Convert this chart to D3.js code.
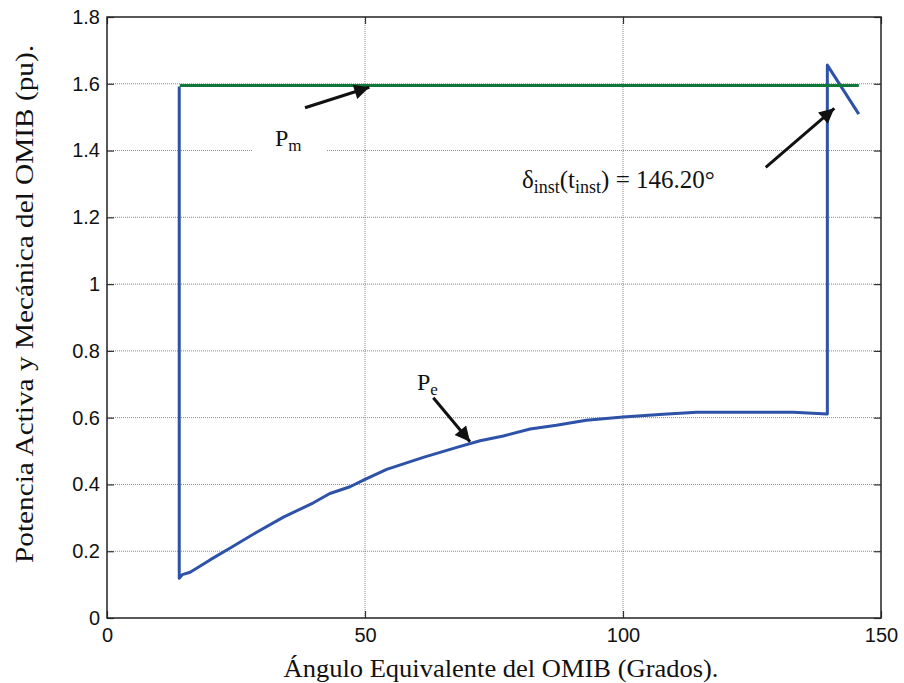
<!DOCTYPE html>
<html>
<head>
<meta charset="utf-8">
<script src="https://cdn.jsdelivr.net/npm/d3@7"></script>
<style>
  body { margin: 0; background: #fff; }
  text { fill: #111; }
</style>
</head>
<body>
<script>
// data
const xTicks = [0, 50, 100, 150]
const yTicks = [0, 0.2, 0.4, 0.6, 0.8, 1, 1.2, 1.4, 1.6, 1.8]

const pmX = [14.1, 145.7]
const pmY = [1.595, 1.595]

const peX = [14.0, 14.0, 14.6, 16.1, 18.0, 19.96, 23.8, 29.0, 34.2, 40.0, 43.2, 47.1, 49.7, 54.2, 61.3, 67.8,
             72.3, 76.8, 82.0, 87.1, 92.9, 100, 107.8, 114.3, 133.0, 139.6, 139.6, 145.7]
const peY = [1.592, 0.119, 0.13, 0.137, 0.155, 0.174, 0.209, 0.257, 0.302, 0.345, 0.373, 0.393, 0.413, 0.445, 0.481, 0.511,
             0.531, 0.545, 0.566, 0.577, 0.592, 0.602, 0.610, 0.616, 0.616, 0.611, 1.656, 1.509]

const m = {
    width: 904,
    height: 683,
    left: 107,
    right: 881,
    top: 17,
    bottom: 618
}

const svg = d3.select("body").append('svg')
    .attr('width', m.width)
    .attr('height', m.height)

const x = d3.scaleLinear().domain([0, 150]).range([m.left, m.right])
const y = d3.scaleLinear().domain([0, 1.8]).range([m.bottom, m.top])

// grid
const grid = svg.append('g')
grid.selectAll('.gx')
    .data(xTicks.slice(1, -1))
    .enter()
    .append('line')
        .attr('x1', d => x(d)).attr('x2', d => x(d))
        .attr('y1', m.top).attr('y2', m.bottom)
        .attr('stroke', '#8a8a8a')
        .attr('stroke-width', 1)
        .attr('stroke-dasharray', '1,1')
grid.selectAll('.gy')
    .data(yTicks.slice(1, -1))
    .enter()
    .append('line')
        .attr('y1', d => y(d)).attr('y2', d => y(d))
        .attr('x1', m.left).attr('x2', m.right)
        .attr('stroke', '#8a8a8a')
        .attr('stroke-width', 1)
        .attr('stroke-dasharray', '1,1')

// axes (matlab style, ticks inward on all sides)
const tick = 7
const axisStyle = g => {
    g.select('.domain').remove()
    g.selectAll('.tick line').attr('stroke', '#333').attr('stroke-width', 1.2)
    g.selectAll('text').attr('font-family', 'Liberation Sans, Arial, sans-serif').attr('font-size', 20)
}
svg.append('g')
    .attr('transform', `translate(0,${m.bottom})`)
    .call(d3.axisBottom(x).tickValues(xTicks).tickSizeInner(-tick).tickSizeOuter(0).tickPadding(10).tickFormat(d3.format('d')))
    .call(axisStyle)
svg.append('g')
    .attr('transform', `translate(${m.left},0)`)
    .call(d3.axisLeft(y).tickValues(yTicks).tickSizeInner(-tick).tickSizeOuter(0).tickPadding(7).tickFormat(d => d === 0 || d === 1 ? d : d.toFixed(1)))
    .call(axisStyle)
svg.append('g')
    .attr('transform', `translate(0,${m.top})`)
    .call(d3.axisTop(x).tickValues(xTicks).tickSizeInner(-tick).tickSizeOuter(0).tickFormat(''))
    .call(axisStyle)
svg.append('g')
    .attr('transform', `translate(${m.right},0)`)
    .call(d3.axisRight(y).tickValues(yTicks).tickSizeInner(-tick).tickSizeOuter(0).tickFormat(''))
    .call(axisStyle)

svg.append('rect')
    .attr('x', m.left).attr('y', m.top)
    .attr('width', m.right - m.left).attr('height', m.bottom - m.top)
    .attr('fill', 'none')
    .attr('stroke', '#222')
    .attr('stroke-width', 1.5)

// lines
const line = d3.line()
    .x(d => x(d[0]))
    .y(d => y(d[1]))

svg.append('path')
    .attr('d', line(peX.map((v, i) => [v, peY[i]])))
    .attr('fill', 'none')
    .attr('stroke', '#2e52a8')
    .attr('stroke-width', 3)
    .attr('stroke-linejoin', 'round')

svg.append('path')
    .attr('d', line(pmX.map((v, i) => [v, pmY[i]])))
    .attr('fill', 'none')
    .attr('stroke', '#11783a')
    .attr('stroke-width', 3)

// annotations
const defs = svg.append('defs')
defs.append('marker')
    .attr('id', 'arr')
    .attr('viewBox', '0 0 10 10')
    .attr('refX', 10).attr('refY', 5)
    .attr('markerWidth', 6).attr('markerHeight', 5)
    .attr('markerUnits', 'strokeWidth')
    .attr('orient', 'auto')
    .append('path')
        .attr('d', 'M0,0 L10,5 L0,10 Z')
        .attr('fill', '#111')

const arrows = [
    [305, 107.7, 369.3, 87.3],
    [433.3, 397.7, 470, 441.7],
    [765.7, 167.3, 834.3, 108.3]
]
svg.selectAll('.arrow')
    .data(arrows)
    .enter()
    .append('line')
        .attr('x1', d => d[0]).attr('y1', d => d[1])
        .attr('x2', d => d[2]).attr('y2', d => d[3])
        .attr('stroke', '#111')
        .attr('stroke-width', 3)
        .attr('marker-end', 'url(#arr)')

const serif = 'Liberation Serif, Times New Roman, serif'

svg.append('rect')
    .attr('x', 253).attr('y', 120).attr('width', 74).attr('height', 36)
    .attr('fill', '#fff')

const pm = svg.append('text')
    .attr('x', 275).attr('y', 146)
    .attr('font-family', serif).attr('font-size', 24)
pm.append('tspan').text('P')
pm.append('tspan').attr('font-size', 17).attr('dy', 5).text('m')

const pe = svg.append('text')
    .attr('x', 417).attr('y', 390)
    .attr('font-family', serif).attr('font-size', 24)
pe.append('tspan').text('P')
pe.append('tspan').attr('font-size', 17).attr('dy', 5).text('e')

const dl = svg.append('text')
    .attr('x', 522).attr('y', 188)
    .attr('font-family', serif).attr('font-size', 25)
dl.append('tspan').text('δ')
dl.append('tspan').attr('font-size', 18).attr('dy', 5).text('inst')
dl.append('tspan').attr('dy', -5).text('(t')
dl.append('tspan').attr('font-size', 18).attr('dy', 5).text('inst')
dl.append('tspan').attr('dy', -5).text(') = 146.20°')

// axis titles
svg.append('text')
    .attr('x', 501).attr('y', 677)
    .attr('text-anchor', 'middle')
    .attr('font-family', serif).attr('font-size', 26)
    .attr('textLength', 435)
    .attr('lengthAdjust', 'spacingAndGlyphs')
    .text('Ángulo Equivalente del OMIB (Grados).')

svg.append('text')
    .attr('transform', 'translate(33,304) rotate(-90)')
    .attr('text-anchor', 'middle')
    .attr('font-family', serif).attr('font-size', 25)
    .attr('textLength', 518)
    .attr('lengthAdjust', 'spacingAndGlyphs')
    .text('Potencia Activa y Mecánica del OMIB (pu).')
</script>
</body>
</html>
